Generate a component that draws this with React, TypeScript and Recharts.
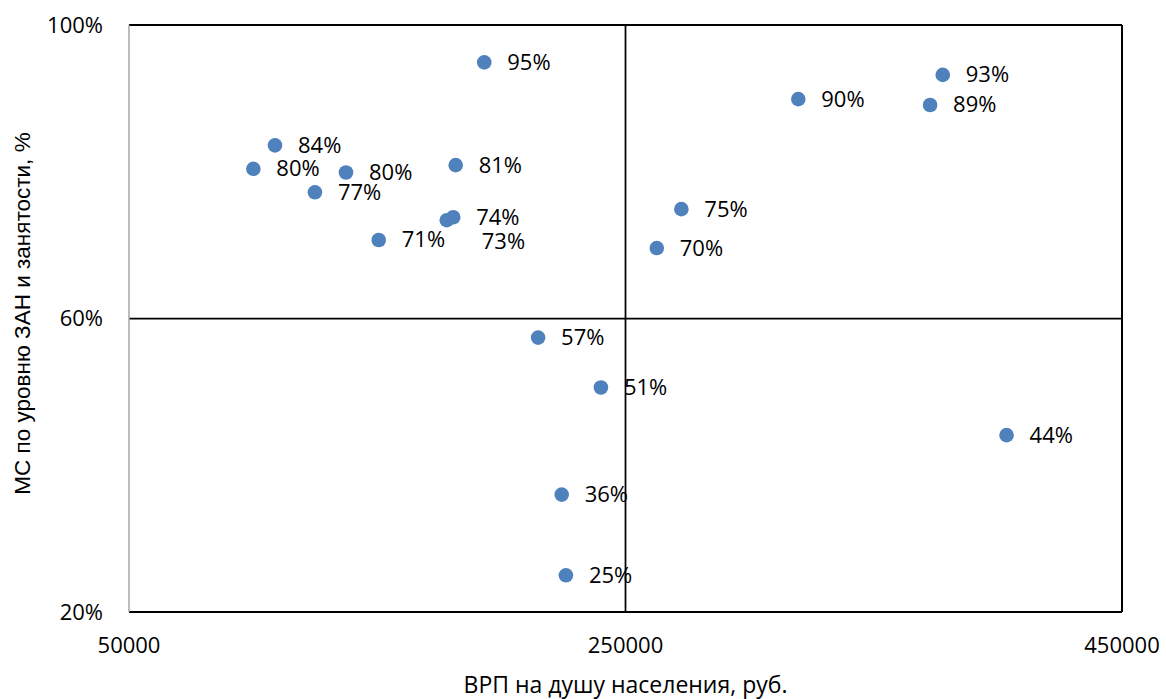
import React from "react"
import {
  ScatterChart, Scatter, XAxis, YAxis, ReferenceLine, LabelList, Label,
} from "recharts"

// ВРП на душу населения, руб. (ось X) и МС по уровню ЗАН и занятости, % (ось Y)
const grp = [
  193100, 108800, 100100, 137400, 124900, 181600, 180600, 178000, 150600,
  272500, 262600, 319600, 377800, 372700, 214800, 240100, 403500, 224300, 226000,
]
const msShare = [
  94.9, 83.6, 80.4, 79.9, 77.2, 80.9, 73.8, 73.4, 70.7,
  74.9, 69.6, 89.9, 93.2, 89.1, 57.4, 50.6, 44.1, 36.0, 25.0,
]
const xTicks = [50000, 250000, 450000]
const yTicks = [20, 60, 100]

const points = grp.map((x, i) => ({ x, y: msShare[i] }))

// ручной сдвиг подписи для слипшейся пары точек
const labelShift: Record<number, { dx: number; dy: number }> = {
  7: { dx: 12, dy: 21 },
}

const FONT = "'Open Sans', sans-serif"
const DOT = "#4F81BD"

const Dot = (p: any) => <circle cx={p.cx} cy={p.cy} r={7.3} fill={DOT} />

const PointLabel = (p: any) => {
  const vb = p.viewBox ?? p
  const cx = vb.x + (vb.width ?? 0) / 2
  const cy = vb.y + (vb.height ?? 0) / 2
  const s = labelShift[p.index] ?? { dx: 0, dy: 0 }
  return (
    <text x={cx + 23 + s.dx} y={cy - 1.5 + s.dy} dominantBaseline="central"
      fontFamily={FONT} fontSize={22} fill="#000">
      {`${Math.round(Number(p.value))}%`}
    </text>
  )
}

const XTitle = ({ viewBox }: any) => (
  <text x={viewBox.x + viewBox.width / 2} y={viewBox.y + viewBox.height - 6}
    textAnchor="middle" fontFamily={FONT} fontSize={23} fill="#000">
    ВРП на душу населения, руб.
  </text>
)

const YTitle = ({ viewBox }: any) => {
  const cx = viewBox.x + 22
  const cy = viewBox.y + viewBox.height / 2 - 5
  return (
    <text x={cx} y={cy} transform={`rotate(-90 ${cx} ${cy})`} textAnchor="middle"
      dominantBaseline="central" fontFamily="'Liberation Sans', Arial, sans-serif" fontSize={22.5} fill="#000">
      МС по уровню ЗАН и занятости, %
    </text>
  )
}

export default function App() {
  const tick = { fontFamily: FONT, fontSize: 22, fill: "#000" }
  return (
    <div style={{ position: "absolute", left: 0, top: 0, background: "#fff" }}>
      <ScatterChart width={1166} height={699} margin={{ top: 25, right: 44, bottom: 0, left: 0 }}>
        <XAxis type="number" dataKey="x" domain={[50000, 450000]} ticks={xTicks} interval={0}
          height={87} tick={tick} tickLine={false} tickSize={0} tickMargin={25}
          axisLine={{ stroke: "#000", strokeWidth: 2 }}>
          <Label content={<XTitle />} />
        </XAxis>
        <YAxis type="number" dataKey="y" domain={[20, 100]} ticks={yTicks} interval={0}
          width={129} tick={tick} tickLine={false} tickSize={0} tickMargin={26}
          tickFormatter={(v) => `${v}%`}
          axisLine={{ stroke: "#A6A6A6", strokeWidth: 1.5 }}>
          <Label content={<YTitle />} />
        </YAxis>
        <ReferenceLine y={100} stroke="#000" strokeWidth={2} />
        <ReferenceLine x={450000} stroke="#000" strokeWidth={2} />
        <ReferenceLine x={250000} stroke="#000" strokeWidth={1.75} />
        <ReferenceLine y={60} stroke="#000" strokeWidth={1.75} />
        <Scatter data={points} fill={DOT} shape={<Dot />} isAnimationActive={false}>
          <LabelList dataKey="y" content={<PointLabel />} />
        </Scatter>
      </ScatterChart>
    </div>
  )
}
